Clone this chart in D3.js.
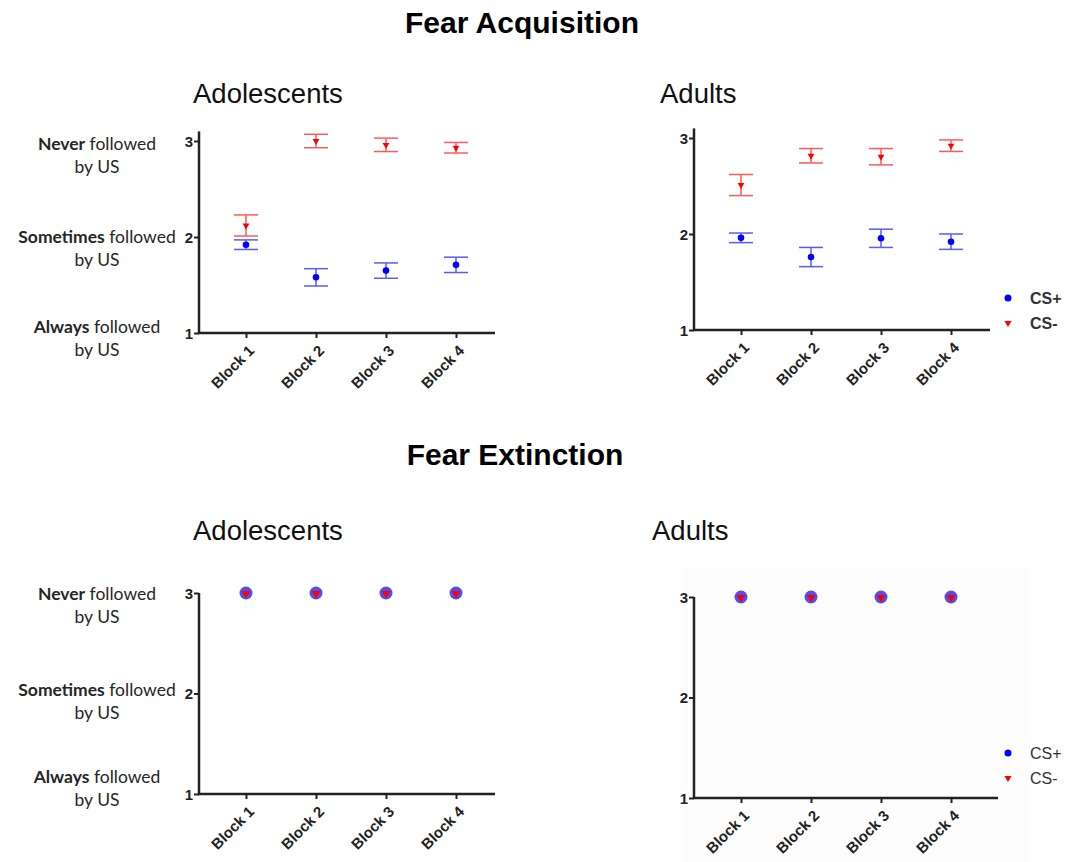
<!DOCTYPE html>
<html>
<head>
<meta charset="utf-8">
<script src="https://cdn.jsdelivr.net/npm/d3@7"></script>
<style>
  body { margin: 0; background: #fff; }
  svg { display: block; font-family: "Liberation Sans", Arial, sans-serif; }
</style>
</head>
<body>
<svg id="chart" width="1065" height="862"></svg>
<script>
// data
var blocks = ["Block 1", "Block 2", "Block 3", "Block 4"];
var yTicks = [1, 2, 3];
var yLabelsBold = ["Always", "Sometimes", "Never"];
var seriesNames = ["CS+", "CS-"];

var acqAdolPlus = [1.92, 1.58, 1.65, 1.71],
    acqAdolPlusErr = [0.05, 0.09, 0.08, 0.08],
    acqAdolMinus = [2.12, 3.0, 2.96, 2.93],
    acqAdolMinusErr = [0.11, 0.07, 0.07, 0.055];

var acqAdultPlus = [1.96, 1.76, 1.955, 1.92],
    acqAdultPlusErr = [0.05, 0.10, 0.095, 0.08],
    acqAdultMinus = [2.51, 2.815, 2.805, 2.92],
    acqAdultMinusErr = [0.11, 0.075, 0.085, 0.06];

var extAdolPlus = [3, 3, 3, 3],
    extAdolMinus = [3, 3, 3, 3],
    extAdultPlus = [3, 3, 3, 3],
    extAdultMinus = [3, 3, 3, 3];

var svg = d3.select("#chart");

// faint background of the pasted bottom-right picture
svg.append("rect").attr("x", 683).attr("y", 568).attr("width", 347).attr("height", 294)
  .attr("fill", "#fdfdfd");

// section titles
svg.append("text").attr("x", 522).attr("y", 33).attr("text-anchor", "middle")
  .style("font-weight", "bold").style("font-size", "30px").text("Fear Acquisition");
svg.append("text").attr("x", 515).attr("y", 465).attr("text-anchor", "middle")
  .style("font-weight", "bold").style("font-size", "30px").text("Fear Extinction");

function drawPanel(opt) {
  var g = svg.append("g").attr("transform", "translate(" + opt.left + ",0)");

  var x = d3.scalePoint().domain(blocks).range([47, 257]);
  var y = d3.scaleLinear().domain([1, 3]).range([opt.y1, opt.y3]);

  // panel title
  svg.append("text").attr("x", opt.titleX).attr("y", opt.titleY)
    .style("font-size", "27.5px").style("fill", "#111").text(opt.title);

  // y axis
  var yAxis = d3.axisLeft(y).tickValues(yTicks).tickSize(5).tickFormat(d3.format("d"));
  var ya = g.append("g").call(yAxis);
  ya.select(".domain").remove();
  ya.selectAll(".tick line").attr("stroke", "#222").attr("stroke-width", 2);
  ya.selectAll(".tick text").attr("x", -6).attr("dy", "0.36em")
    .style("font-size", "15px").style("font-weight", "bold").style("fill", "#222");
  g.append("line").attr("x1", 0).attr("x2", 0)
    .attr("y1", y(opt.yMax)).attr("y2", opt.y1 + 1)
    .attr("stroke", "#222").attr("stroke-width", 2.5);

  // x axis
  var xAxis = d3.axisBottom(x).tickSize(5).tickSizeOuter(0);
  var xa = g.append("g").attr("transform", "translate(0," + opt.y1 + ")").call(xAxis);
  xa.select(".domain").remove();
  xa.selectAll(".tick line").attr("stroke", "#222").attr("stroke-width", 2);
  xa.selectAll(".tick text")
    .attr("text-anchor", "end")
    .attr("transform", "translate(5,15) rotate(-45)")
    .attr("x", 0).attr("y", 0).attr("dy", "0.35em")
    .style("font-size", "15px").style("font-weight", "bold").style("fill", "#222");
  g.append("line").attr("x1", -1).attr("x2", opt.axisW)
    .attr("y1", opt.y1).attr("y2", opt.y1)
    .attr("stroke", "#222").attr("stroke-width", 2.5);

  // error bars
  var series = [
    { vals: opt.plus, err: opt.plusErr, color: "#5a5aff" },
    { vals: opt.minus, err: opt.minusErr, color: "#ff5a5a" }
  ];
  series.forEach(function(s) {
    if (!s.err) return;
    var eb = g.append("g").attr("stroke", s.color).attr("stroke-width", 1.5).attr("fill", "none");
    s.vals.forEach(function(v, i) {
      var cx = x(blocks[i]), e = s.err[i];
      eb.append("line").attr("x1", cx).attr("x2", cx).attr("y1", y(v + e)).attr("y2", y(v - e));
      eb.append("line").attr("x1", cx - 12).attr("x2", cx + 12).attr("y1", y(v + e)).attr("y2", y(v + e));
      eb.append("line").attr("x1", cx - 12).attr("x2", cx + 12).attr("y1", y(v - e)).attr("y2", y(v - e));
    });
  });

  // markers
  g.selectAll("circle.plus").data(opt.plus).enter().append("circle")
    .attr("class", "plus")
    .attr("cx", function(d, i) { return x(blocks[i]); })
    .attr("cy", function(d) { return y(d); })
    .attr("r", opt.big ? 6.5 : 3.3)
    .attr("fill", opt.big ? "#4f4ff5" : "#0000ff");

  var tri = d3.symbol().type(d3.symbolTriangle).size(opt.big ? 34 : 20);
  g.selectAll("path.minus").data(opt.minus).enter().append("path")
    .attr("class", "minus")
    .attr("d", tri)
    .attr("transform", function(d, i) {
      return "translate(" + x(blocks[i]) + "," + (y(d) + (opt.big ? 0.5 : 0)) + ") rotate(180)";
    })
    .attr("fill", "#ff0000");

  // left descriptive labels
  if (opt.yText) {
    yTicks.forEach(function(t, i) {
      var ty = y(t) + opt.yTextOffsets[i];
      var txt = svg.append("text").attr("x", 97).attr("y", ty).attr("text-anchor", "middle")
        .style("font-family", "Lato, 'Open Sans', sans-serif").style("font-size", "17.5px").style("fill", "#262626");
      txt.append("tspan").style("font-weight", "bold").text(yLabelsBold[i]);
      txt.append("tspan").text(" followed");
      svg.append("text").attr("x", 97).attr("y", ty + 23).attr("text-anchor", "middle")
        .style("font-family", "Lato, 'Open Sans', sans-serif").style("font-size", "17.5px").style("fill", "#262626")
        .text("by US");
    });
  }

  // legend
  if (opt.legendY) {
    var lg = svg.append("g").attr("transform", "translate(1008," + opt.legendY + ")");
    lg.append("circle").attr("cx", 0).attr("cy", 0).attr("r", 3.5).attr("fill", "#0000ff");
    lg.append("path").attr("d", d3.symbol().type(d3.symbolTriangle).size(22))
      .attr("transform", "translate(0,25) rotate(180)").attr("fill", "#ff0000");
    seriesNames.forEach(function(n, i) {
      lg.append("text").attr("x", 22).attr("y", i * 25 + 6)
        .style("font-size", "16px").style("font-weight", opt.legendBold ? "bold" : "normal")
        .style("fill", "#333").text(n);
    });
  }
}

drawPanel({ left: 199, y1: 333, y3: 141, yMax: 3.1, axisW: 296,
  title: "Adolescents", titleX: 193, titleY: 103,
  plus: acqAdolPlus, plusErr: acqAdolPlusErr, minus: acqAdolMinus, minusErr: acqAdolMinusErr,
  yText: true, yTextOffsets: [0, 6, 9] });

drawPanel({ left: 694, y1: 330, y3: 138, yMax: 3.1, axisW: 296,
  title: "Adults", titleX: 660, titleY: 103,
  plus: acqAdultPlus, plusErr: acqAdultPlusErr, minus: acqAdultMinus, minusErr: acqAdultMinusErr,
  legendY: 298, legendBold: true });

drawPanel({ left: 199, y1: 794, y3: 593, yMax: 3, axisW: 296,
  title: "Adolescents", titleX: 193, titleY: 540,
  plus: extAdolPlus, minus: extAdolMinus, big: true,
  yText: true, yTextOffsets: [-11, 2, 7] });

drawPanel({ left: 694, y1: 798, y3: 597, yMax: 3, axisW: 304,
  title: "Adults", titleX: 652, titleY: 540,
  plus: extAdultPlus, minus: extAdultMinus, big: true,
  legendY: 753, legendBold: false });
</script>
</body>
</html>
